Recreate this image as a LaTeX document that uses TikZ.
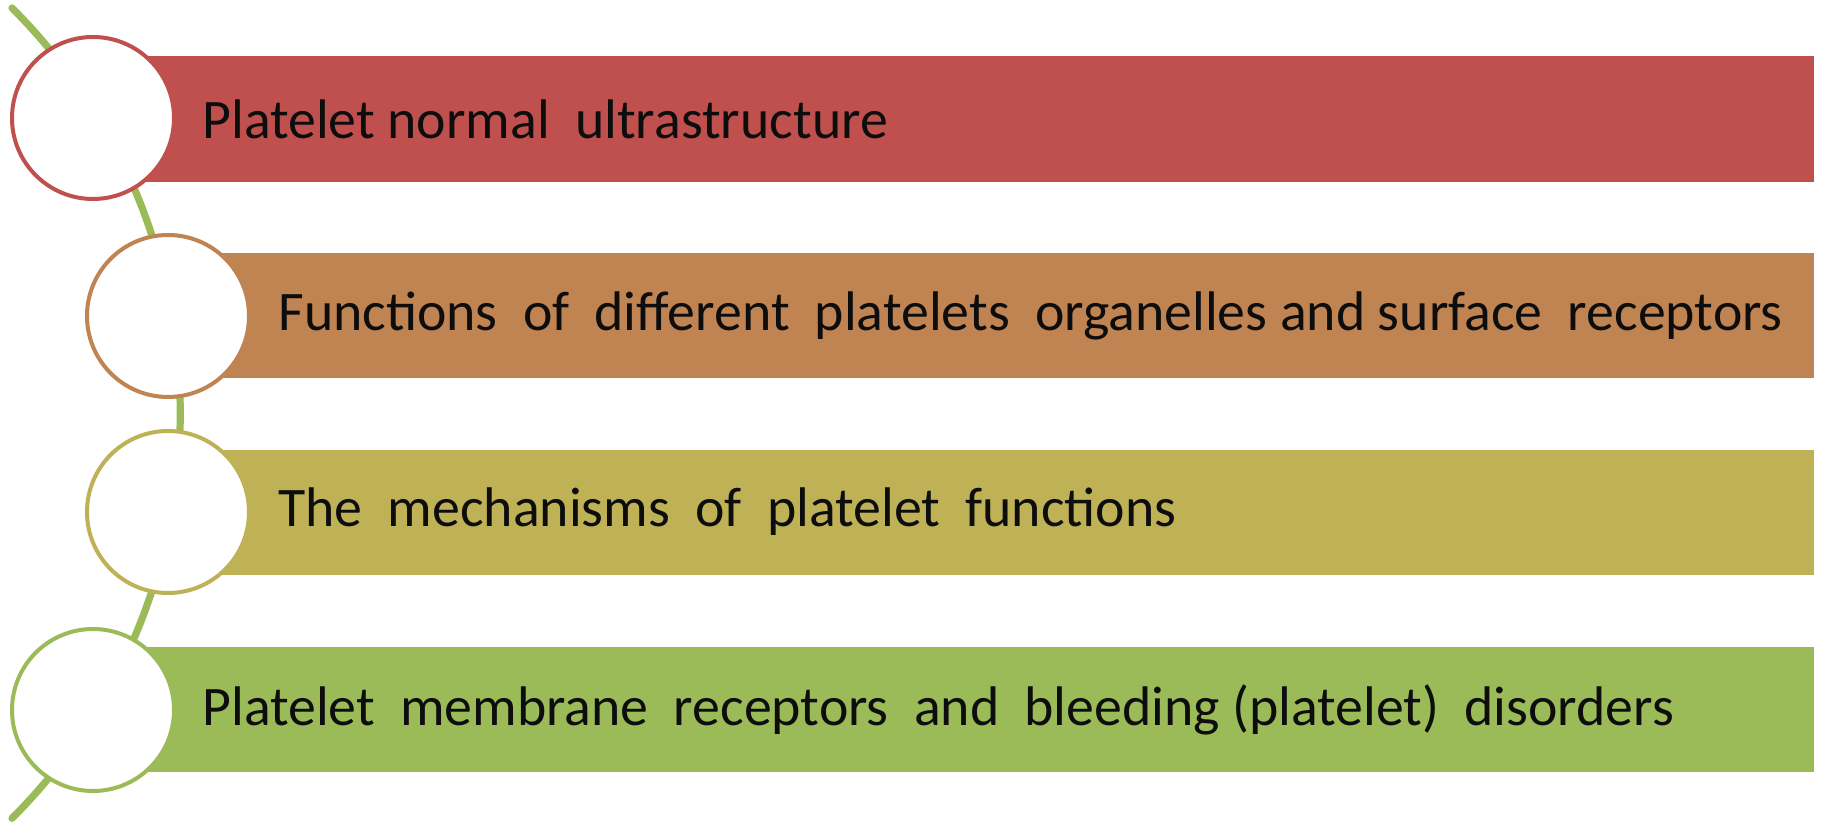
\documentclass[tikz,border=0pt]{standalone}
\usepackage{fontspec}
\setmainfont{Carlito}
\definecolor{cRed}{HTML}{C0504D}
\definecolor{cOrange}{HTML}{C08352}
\definecolor{cOlive}{HTML}{BEB156}
\definecolor{cGreen}{HTML}{9BBB59}
\begin{document}
\begin{tikzpicture}[x=0.5pt,y=-0.5pt,
  disc/.style={circle, draw=#1, fill=white, line width=2pt, minimum size=81pt, inner sep=0pt},
  label/.style={anchor=west, font=\fontsize{27.9pt}{34pt}\selectfont, text=black!95, inner sep=0pt}]
\useasboundingbox (0,0) rectangle (1822,822);
% green arc
\coordinate (top) at (12,8);
\draw[cGreen, line width=3.6pt, line cap=round] (top) arc[start angle=-45.1, end angle=45.1, radius=572];
% bars
\fill[cRed]    (93,56)  rectangle (1814,182);
\fill[cOrange] (168,253) rectangle (1814,378);
\fill[cOlive]  (168,450) rectangle (1814,575);
\fill[cGreen]  (93,647) rectangle (1814,772);
% circles
\node[disc=cRed]    (c1) at (93,118) {};
\node[disc=cOrange] (c2) at (168,316) {};
\node[disc=cOlive]  (c3) at (168,512) {};
\node[disc=cGreen]  (c4) at (93,710) {};
% labels
\node[label] (t1) at (202,119) {Platelet normal\ \ ultrastructure};
\node[label] (t2) at (278,316) {Functions\ \ of\ \ different\ \ platelets\ \ organelles and surface\ \ receptors};
\node[label] (t3) at (278,512) {The\ \ mechanisms\ \ of\ \ platelet\ \ functions};
\node[label] (t4) at (202,710) {Platelet\ \ membrane\ \ receptors\ \ and\ \ bleeding (platelet)\ \ disorders};
\end{tikzpicture}
\end{document}
